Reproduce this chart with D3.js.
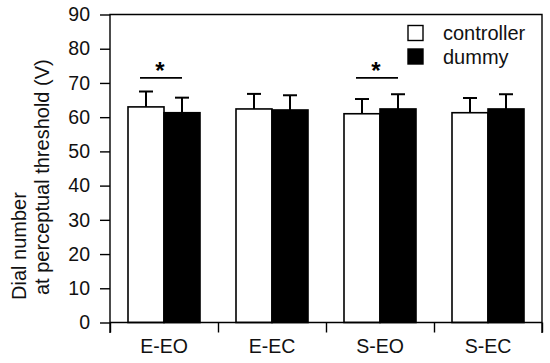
<!DOCTYPE html>
<html>
<head>
<meta charset="utf-8">
<script src="https://cdn.jsdelivr.net/npm/d3@7"></script>
<style>
  body { margin: 0; background: #fff; }
  svg { display: block; font-family: "Liberation Sans", Arial, sans-serif; }
</style>
</head>
<body>
<div id="visualization"></div>
<script>
const categories = ['E-EO', 'E-EC', 'S-EO', 'S-EC'];
const seriesNames = ['controller', 'dummy'];
const controllerMean = [63.0, 62.4, 61.0, 61.3];
const dummyMean = [61.3, 62.1, 62.4, 62.4];
const controllerSD = [4.5, 4.4, 4.3, 4.3];
const dummySD = [4.4, 4.3, 4.3, 4.3];
const yTicks = [0, 10, 20, 30, 40, 50, 60, 70, 80, 90];
const significant = ['E-EO', 'S-EO'];

const chart = {
  width: 550,
  height: 363,
  left: 110,
  right: 542,
  top: 14.5,
  bottom: 322.5,

  init() {
    this.svg = d3.select('#visualization').append('svg')
      .attr('width', this.width)
      .attr('height', this.height);

    this.x = d3.scaleBand().domain(categories).range([this.left, this.right]);
    this.xInner = d3.scaleBand().domain(seriesNames)
      .range([0, this.x.bandwidth()])
      .paddingInner(0)
      .paddingOuter(0.5);
    this.y = d3.scaleLinear().domain([0, 90]).range([this.bottom, this.top]);

    this.rows = [];
    categories.forEach((c, i) => {
      this.rows.push({ cat: c, series: 'controller', mean: controllerMean[i], sd: controllerSD[i] });
      this.rows.push({ cat: c, series: 'dummy', mean: dummyMean[i], sd: dummySD[i] });
    });

    this.drawBars();
    this.drawAxes();
    this.drawSignificance();
    this.drawLegend();
    this.drawTitle();
  },

  barX(d) {
    return this.x(d.cat) + this.xInner(d.series);
  },

  drawBars() {
    const w = this.xInner.bandwidth();
    const g = this.svg.append('g');

    g.selectAll('line.err')
      .data(this.rows)
      .join('line')
      .attr('class', 'err')
      .attr('x1', (d) => this.barX(d) + w / 2)
      .attr('x2', (d) => this.barX(d) + w / 2)
      .attr('y1', (d) => this.y(d.mean))
      .attr('y2', (d) => this.y(d.mean + d.sd))
      .attr('stroke', '#000')
      .attr('stroke-width', 2);

    g.selectAll('line.cap')
      .data(this.rows)
      .join('line')
      .attr('class', 'cap')
      .attr('x1', (d) => this.barX(d) + w / 2 - 7)
      .attr('x2', (d) => this.barX(d) + w / 2 + 7)
      .attr('y1', (d) => this.y(d.mean + d.sd))
      .attr('y2', (d) => this.y(d.mean + d.sd))
      .attr('stroke', '#000')
      .attr('stroke-width', 2);

    g.selectAll('rect')
      .data(this.rows)
      .join('rect')
      .attr('x', (d) => this.barX(d))
      .attr('y', (d) => this.y(d.mean))
      .attr('width', w)
      .attr('height', (d) => this.y(0) - this.y(d.mean))
      .attr('fill', (d) => d.series === 'controller' ? '#fff' : '#000')
      .attr('stroke', '#000')
      .attr('stroke-width', 1.6);
  },

  drawAxes() {
    const yAxis = d3.axisLeft(this.y)
      .tickValues(yTicks)
      .tickSize(10)
      .tickPadding(10);
    const gy = this.svg.append('g')
      .attr('transform', `translate(${this.left},0)`)
      .call(yAxis);

    const xAxis = d3.axisBottom(this.x).tickSize(0).tickPadding(17);
    const gx = this.svg.append('g')
      .attr('transform', `translate(0,${this.bottom})`)
      .call(xAxis);

    // ticks at the category boundaries
    const edges = d3.scaleLinear().domain([0, categories.length]).range([this.left, this.right]);
    const gb = this.svg.append('g')
      .attr('transform', `translate(0,${this.bottom})`)
      .call(d3.axisBottom(edges).ticks(categories.length).tickSize(10).tickFormat(''));

    for (const g of [gy, gx, gb]) {
      g.select('.domain').remove();
      g.selectAll('line').attr('stroke', '#000').attr('stroke-width', 1.4);
      g.selectAll('text')
        .attr('fill', '#111')
        .attr('font-size', 19.5)
        .attr('font-family', '"Liberation Sans", Arial, sans-serif');
    }

    // frame
    const frame = this.svg.append('g')
      .attr('stroke', '#000')
      .attr('stroke-width', 1.4)
      .attr('fill', 'none');
    frame.append('path')
      .attr('d', `M${this.left},${this.bottom + 10.5}V${this.top}H${this.right}V${this.bottom + 10.5}`);
    frame.append('line')
      .attr('x1', this.left).attr('x2', this.right)
      .attr('y1', this.bottom).attr('y2', this.bottom);
  },

  drawSignificance() {
    const g = this.svg.append('g');
    const lineY = this.y(71.5);
    for (const c of significant) {
      const cx = this.x(c) + this.x.bandwidth() / 2 - 3;
      g.append('line')
        .attr('x1', cx - 21).attr('x2', cx + 21)
        .attr('y1', lineY).attr('y2', lineY)
        .attr('stroke', '#000')
        .attr('stroke-width', 1.8);
      g.append('text')
        .attr('x', cx - 1)
        .attr('y', lineY + 1)
        .attr('text-anchor', 'middle')
        .attr('font-size', 24)
        .attr('font-weight', 'bold')
        .attr('fill', '#000')
        .text('*');
    }
  },

  drawLegend() {
    const g = this.svg.append('g').attr('transform', 'translate(408,25.5)');
    seriesNames.forEach((name, i) => {
      g.append('rect')
        .attr('x', 0)
        .attr('y', i * 23.5)
        .attr('width', 15)
        .attr('height', 15)
        .attr('fill', name === 'controller' ? '#fff' : '#000')
        .attr('stroke', '#000')
        .attr('stroke-width', 1.4);
      g.append('text')
        .attr('x', 35)
        .attr('y', i * 23.5 + 7.5)
        .attr('dy', '0.35em')
        .attr('font-size', 20)
        .attr('fill', '#111')
        .text(name);
    });
  },

  drawTitle() {
    const g = this.svg.append('g')
      .attr('font-size', 20)
      .attr('fill', '#111')
      .attr('text-anchor', 'start');
    g.append('text')
      .attr('transform', 'translate(26,300) rotate(-90)')
      .text('Dial number');
    g.append('text')
      .attr('transform', 'translate(49,295) rotate(-90)')
      .text('at perceptual threshold (V)');
  }
};

chart.init();
</script>
</body>
</html>
